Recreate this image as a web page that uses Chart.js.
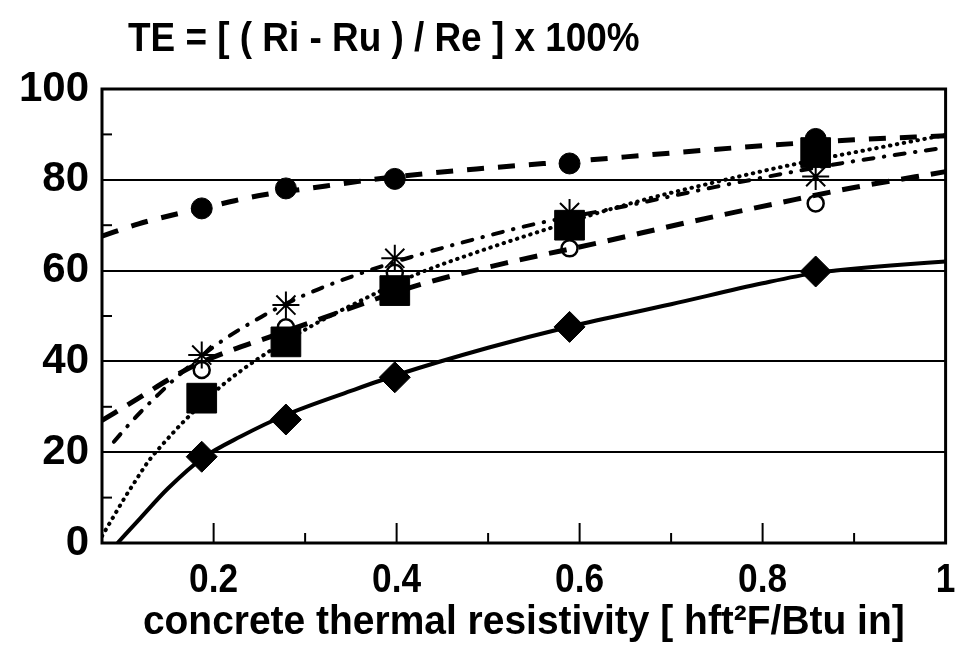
<!DOCTYPE html>
<html>
<head>
<meta charset="utf-8">
<script src="https://cdn.jsdelivr.net/npm/chart.js@4/dist/chart.umd.min.js"></script>
<style>
  html, body { margin: 0; padding: 0; background: #ffffff; }
  #wrap { width: 970px; height: 652px; }
</style>
</head>
<body>
<div id="wrap"><canvas id="c" width="970" height="652"></canvas></div>
<script>
// ---------- texts ----------
const TITLE = 'TE = [ ( Ri - Ru ) / Re ] x 100%';
const X_TITLE = 'concrete thermal resistivity [ hft\u00B2F/Btu in]';

// ---------- axes ----------
const X_MIN = 0.078, X_MAX = 1;
const Y_MIN = 0, Y_MAX = 100;
const X_LABEL_TICKS = [0.2, 0.4, 0.6, 0.8, 1];
const X_MINOR_TICKS = [0.3, 0.5, 0.7, 0.9];
const Y_LABEL_TICKS = [0, 20, 40, 60, 80, 100];
const Y_MINOR_TICKS = [10, 30, 50, 70, 90];

// ---------- measured points ----------
const markerX       = [0.187, 0.279, 0.398, 0.589, 0.858];
const diamondY      = [19.0, 27.2, 36.5, 47.6, 59.8];
const filledCircleY = [73.7, 78.1, 80.2, 83.6, 89.0];
const squareY       = [31.9, 44.3, 55.6, 70.0, 86.0];
const openCircleY   = [38.1, 47.5, 59.5, 64.9, 74.8];
const asteriskY     = [41.4, 52.4, 62.7, 72.8, 80.7];

// ---------- trend curves ----------
const solidX  = [0.095, 0.12, 0.15, 0.188, 0.23, 0.28, 0.35, 0.4, 0.5, 0.59, 0.7, 0.8, 0.858, 0.88, 0.94, 1.0];
const solidY  = [0, 5.5, 12, 18.7, 23.5, 28.3, 33.5, 37, 43, 47.7, 52.6, 57.2, 59.5, 60, 61.1, 62];

const dashAX  = [0.078, 0.118, 0.154, 0.19, 0.223, 0.255, 0.3, 0.4, 0.5, 0.6, 0.7, 0.8, 0.9, 1.0];
const dashAY  = [67.6, 70.3, 72.2, 73.8, 75.4, 76.7, 78.0, 80.7, 82.6, 84.2, 85.9, 87.5, 88.8, 89.7];

const dashBX  = [0.078, 0.118, 0.15, 0.18, 0.22, 0.26, 0.32, 0.42, 0.52, 0.62, 0.72, 0.82, 0.9, 1.0];
const dashBY  = [27.0, 31.9, 35.9, 39.2, 42.5, 45.3, 49.6, 56.6, 61.7, 66.1, 70.7, 75.0, 78.3, 81.8];

const dotX    = [0.078, 0.0926, 0.1035, 0.114, 0.1287, 0.1433, 0.1685, 0.208, 0.248, 0.307, 0.365, 0.423, 0.481, 0.553, 0.652, 0.759, 0.82, 0.881, 0.925, 1.0];
const dotY    = [1.5, 6.5, 10.2, 13.5, 18.0, 21.5, 27.0, 34.5, 40.5, 47.8, 53.8, 59.3, 63.6, 68.4, 74.6, 80.0, 82.8, 85.3, 87.0, 89.9];

const dashDotX = [0.091, 0.107, 0.12, 0.14, 0.165, 0.204, 0.252, 0.297, 0.351, 0.416, 0.5, 0.55, 0.645, 0.75, 0.885, 1.0];
const dashDotY = [22.3, 26.0, 28.8, 32.8, 37.5, 43.8, 49.8, 54.4, 58.7, 63.0, 67.7, 70.2, 74.0, 78.5, 83.6, 87.1];

// ---------- helpers ----------
const pts = (xs, ys) => xs.map((x, i) => ({ x: x, y: ys[i] }));
const FONT_FAMILY = "'Liberation Sans', Arial, sans-serif";
const TICK_FONT = { family: FONT_FAMILY, size: 42, weight: 'bold' };
const XTICK_FONT = { family: FONT_FAMILY, size: 41, weight: 'bold' };
const AXIS_TITLE_FONT = { family: FONT_FAMILY, size: 41, weight: 'bold' };
const INK = '#000000';

// narrower lettering (the original type is condensed): horizontal squeeze per text
const X_LABEL_TEXTS = X_LABEL_TICKS.map(v => String(v));
function squeezeFor(text) {
  if (text === TITLE) return 0.9;
  if (text === X_TITLE) return 0.95;
  if (X_LABEL_TEXTS.indexOf(text) >= 0) return 0.86;
  return 1;
}
const canvas = document.getElementById('c');
const c2d = canvas.getContext('2d');
const rawFillText = c2d.fillText;
c2d.fillText = function (text, x, y, maxWidth) {
  const k = squeezeFor(String(text));
  if (k < 1) {
    const w = this.measureText(String(text)).width * k;
    return rawFillText.call(this, text, x, y, maxWidth !== undefined ? Math.min(maxWidth, w) : w);
  }
  return maxWidth !== undefined ? rawFillText.call(this, text, x, y, maxWidth) : rawFillText.call(this, text, x, y);
};

function curve(xs, ys, dash, width, cap, order) {
  return {
    type: 'line', data: pts(xs, ys), showLine: true,
    borderColor: INK, borderWidth: width, borderDash: dash, borderCapStyle: cap,
    pointRadius: 0, fill: false, cubicInterpolationMode: 'monotone', order: order
  };
}
function markers(ys, style, radius, filled, bw, order) {
  return {
    type: 'scatter', data: pts(markerX, ys), showLine: false,
    pointStyle: style, pointRadius: radius,
    backgroundColor: filled ? INK : 'rgba(0,0,0,0)',
    borderColor: INK, borderWidth: bw, order: order
  };
}

const frameTitleTicks = {
  id: 'frameTitleTicks',
  afterDraw(chart) {
    const { ctx, chartArea: a, scales: { x, y } } = chart;
    ctx.save();
    ctx.strokeStyle = INK;
    const seg = (x1, y1, x2, y2) => { ctx.beginPath(); ctx.moveTo(x1, y1); ctx.lineTo(x2, y2); ctx.stroke(); };
    ctx.lineWidth = 2;
    X_LABEL_TICKS.forEach(v => { if (v < X_MAX) { const p = x.getPixelForValue(v); seg(p, a.bottom, p, a.bottom - 20); } });
    X_MINOR_TICKS.forEach(v => { const p = x.getPixelForValue(v); seg(p, a.bottom, p, a.bottom - 10); });
    Y_MINOR_TICKS.forEach(v => { const p = y.getPixelForValue(v); seg(a.left, p, a.left + 10, p); });
    ctx.lineWidth = 3;
    ctx.strokeRect(a.left, a.top, a.right - a.left, a.bottom - a.top);
    ctx.fillStyle = INK;
    ctx.font = 'bold 41px ' + FONT_FAMILY;
    ctx.textBaseline = 'middle';
    ctx.textAlign = 'left';
    ctx.fillText(TITLE, a.left + 26, 40);
    ctx.restore();
  }
};

new Chart(canvas, {
  data: {
    datasets: [
      markers(squareY, 'rect', 21, true, 1, 1),
      markers(filledCircleY, 'circle', 10.5, true, 1, 2),
      markers(diamondY, 'rectRot', 15.5, true, 1, 3),
      markers(asteriskY, 'star', 13.5, false, 2, 4),
      markers(openCircleY, 'circle', 8, false, 2.5, 5),
      curve(solidX, solidY, [], 4, 'butt', 10),
      curve(dashAX, dashAY, [17, 14], 5, 'butt', 11),
      curve(dashBX, dashBY, [18, 12], 5, 'butt', 12),
      curve(dotX, dotY, [0.5, 6.5], 4, 'round', 13),
      curve(dashDotX, dashDotY, [10, 10.5, 0.5, 10.5], 4, 'round', 14)
    ]
  },
  options: {
    responsive: false,
    animation: false,
    devicePixelRatio: 1,
    layout: { padding: { left: 0, right: 18, top: 89, bottom: 0 } },
    plugins: { legend: { display: false }, tooltip: { enabled: false }, title: { display: false } },
    scales: {
      x: {
        type: 'linear', min: X_MIN, max: X_MAX,
        afterBuildTicks: s => { s.ticks = X_LABEL_TICKS.map(v => ({ value: v })); },
        afterFit: s => { s.height = 109; },
        grid: { display: false, drawTicks: false },
        border: { display: false },
        ticks: { font: XTICK_FONT, color: INK, padding: 13, maxRotation: 0, autoSkip: false,
                 callback: v => String(v) },
        title: { display: true, text: X_TITLE, font: AXIS_TITLE_FONT, color: INK, padding: { top: 0, bottom: 5 } }
      },
      y: {
        type: 'linear', min: Y_MIN, max: Y_MAX,
        afterBuildTicks: s => { s.ticks = Y_LABEL_TICKS.map(v => ({ value: v })); },
        afterFit: s => { s.width = 102; },
        grid: { color: INK, lineWidth: 2, drawTicks: false },
        border: { display: false },
        ticks: { font: TICK_FONT, color: INK, padding: 13, callback: v => String(v) }
      }
    }
  },
  plugins: [frameTitleTicks]
});
</script>
</body>
</html>
